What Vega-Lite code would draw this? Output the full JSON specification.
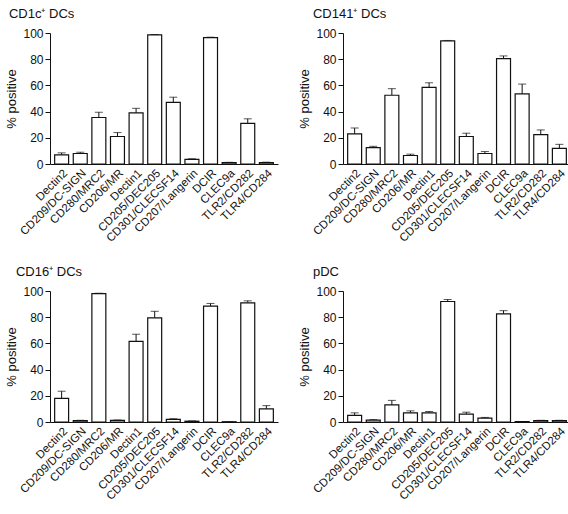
{
  "$schema": "https://vega.github.io/schema/vega-lite/v6.json",
  "background": "white",
  "padding": {"left": 5, "top": 8, "right": 2, "bottom": 2},
  "config": {
    "font": "Liberation Sans",
    "view": {"stroke": null},
    "axis": {"labelColor": "#111", "titleColor": "#111", "domainColor": "#111", "tickColor": "#111", "grid": false},
    "axisY": {"values": [0, 20, 40, 60, 80, 100], "labelOverlap": false, "labelFontSize": 12, "labelPadding": 2, "titleFontSize": 13, "titleFontWeight": "normal", "tickSize": 5, "titlePadding": 4},
    "axisX": {"labelAngle": -45, "ticks": false, "labelFontSize": 11.5, "labelPadding": 3, "labelLimit": 200},
    "title": {"fontSize": 13, "fontWeight": "normal", "color": "#111", "anchor": "start", "offset": 6}
  },
  "spacing": {"row": 22, "column": 20},
  "data": {
    "values": [
      {"panel": "A", "receptor": "Dectin2", "value": 7, "hi": 8.5},
      {"panel": "A", "receptor": "CD209/DC-SIGN", "value": 8, "hi": 9},
      {"panel": "A", "receptor": "CD280/MRC2", "value": 35.5, "hi": 39.5},
      {"panel": "A", "receptor": "CD206/MR", "value": 21, "hi": 24},
      {"panel": "A", "receptor": "Dectin1", "value": 39, "hi": 42.5},
      {"panel": "A", "receptor": "CD205/DEC205", "value": 98.5, "hi": 98.8},
      {"panel": "A", "receptor": "CD301/CLECSF14", "value": 47, "hi": 51},
      {"panel": "A", "receptor": "CD207/Langerin", "value": 3.5, "hi": 4},
      {"panel": "A", "receptor": "DCIR", "value": 96.5, "hi": 96.8},
      {"panel": "A", "receptor": "CLEC9a", "value": 1, "hi": 1.3},
      {"panel": "A", "receptor": "TLR2/CD282", "value": 31, "hi": 34.5},
      {"panel": "A", "receptor": "TLR4/CD284", "value": 1, "hi": 1.4},

      {"panel": "B", "receptor": "Dectin2", "value": 23, "hi": 27.5},
      {"panel": "B", "receptor": "CD209/DC-SIGN", "value": 12.5, "hi": 13.5},
      {"panel": "B", "receptor": "CD280/MRC2", "value": 52.5, "hi": 57.5},
      {"panel": "B", "receptor": "CD206/MR", "value": 6.5, "hi": 7.5},
      {"panel": "B", "receptor": "Dectin1", "value": 58.5, "hi": 62},
      {"panel": "B", "receptor": "CD205/DEC205", "value": 94, "hi": 94.3},
      {"panel": "B", "receptor": "CD301/CLECSF14", "value": 21, "hi": 23.5},
      {"panel": "B", "receptor": "CD207/Langerin", "value": 8, "hi": 9.5},
      {"panel": "B", "receptor": "DCIR", "value": 80.5, "hi": 82.5},
      {"panel": "B", "receptor": "CLEC9a", "value": 53.5, "hi": 61},
      {"panel": "B", "receptor": "TLR2/CD282", "value": 22.5, "hi": 26},
      {"panel": "B", "receptor": "TLR4/CD284", "value": 12, "hi": 15},

      {"panel": "C", "receptor": "Dectin2", "value": 18, "hi": 23.5},
      {"panel": "C", "receptor": "CD209/DC-SIGN", "value": 1, "hi": 1.3},
      {"panel": "C", "receptor": "CD280/MRC2", "value": 98, "hi": 98.3},
      {"panel": "C", "receptor": "CD206/MR", "value": 1.2, "hi": 1.5},
      {"panel": "C", "receptor": "Dectin1", "value": 61.5, "hi": 67},
      {"panel": "C", "receptor": "CD205/DEC205", "value": 79.5, "hi": 84.5},
      {"panel": "C", "receptor": "CD301/CLECSF14", "value": 2, "hi": 2.5},
      {"panel": "C", "receptor": "CD207/Langerin", "value": 0.6, "hi": 0.8},
      {"panel": "C", "receptor": "DCIR", "value": 88.5, "hi": 90.5},
      {"panel": "C", "receptor": "CLEC9a", "value": 0.2, "hi": 0.2},
      {"panel": "C", "receptor": "TLR2/CD282", "value": 91, "hi": 92.5},
      {"panel": "C", "receptor": "TLR4/CD284", "value": 10, "hi": 12.5},

      {"panel": "D", "receptor": "Dectin2", "value": 5, "hi": 7},
      {"panel": "D", "receptor": "CD209/DC-SIGN", "value": 1.5, "hi": 1.8},
      {"panel": "D", "receptor": "CD280/MRC2", "value": 13, "hi": 16.5},
      {"panel": "D", "receptor": "CD206/MR", "value": 7, "hi": 8.5},
      {"panel": "D", "receptor": "Dectin1", "value": 7, "hi": 8},
      {"panel": "D", "receptor": "CD205/DEC205", "value": 92, "hi": 93.5},
      {"panel": "D", "receptor": "CD301/CLECSF14", "value": 6, "hi": 7.5},
      {"panel": "D", "receptor": "CD207/Langerin", "value": 3, "hi": 3.5},
      {"panel": "D", "receptor": "DCIR", "value": 82.5, "hi": 85},
      {"panel": "D", "receptor": "CLEC9a", "value": 0.3, "hi": 0.3},
      {"panel": "D", "receptor": "TLR2/CD282", "value": 1, "hi": 1.3},
      {"panel": "D", "receptor": "TLR4/CD284", "value": 1, "hi": 1.3}
    ]
  },
  "columns": 2,
  "concat": [
    {
      "title": {"text": "CD1c⁺ DCs", "dx": 3},
      "width": 228, "height": 131,
      "transform": [{"filter": "datum.panel === 'A'"}],
      "encoding": {
        "x": {"field": "receptor", "type": "nominal", "sort": null, "title": null, "scale": {"paddingInner": 0.25, "paddingOuter": 0.25}}
      },
      "layer": [
        {"mark": {"type": "rule", "color": "#111", "strokeWidth": 1}, "encoding": {"y": {"field": "value", "type": "quantitative", "title": "% positive", "scale": {"domain": [0, 100]}}, "y2": {"field": "hi"}}},
        {"mark": {"type": "tick", "color": "#111", "size": 8, "thickness": 1}, "encoding": {"y": {"field": "hi", "type": "quantitative", "title": "% positive", "scale": {"domain": [0, 100]}}}},
        {"mark": {"type": "bar", "fill": "white", "stroke": "#111", "strokeWidth": 1.2}, "encoding": {"y": {"field": "value", "type": "quantitative", "title": "% positive", "scale": {"domain": [0, 100]}}}}
      ]
    },
    {
      "title": {"text": "CD141⁺ DCs", "dx": 14},
      "width": 228, "height": 131,
      "transform": [{"filter": "datum.panel === 'B'"}],
      "encoding": {
        "x": {"field": "receptor", "type": "nominal", "sort": null, "title": null, "scale": {"paddingInner": 0.25, "paddingOuter": 0.25}}
      },
      "layer": [
        {"mark": {"type": "rule", "color": "#111", "strokeWidth": 1}, "encoding": {"y": {"field": "value", "type": "quantitative", "title": "% positive", "scale": {"domain": [0, 100]}}, "y2": {"field": "hi"}}},
        {"mark": {"type": "tick", "color": "#111", "size": 8, "thickness": 1}, "encoding": {"y": {"field": "hi", "type": "quantitative", "title": "% positive", "scale": {"domain": [0, 100]}}}},
        {"mark": {"type": "bar", "fill": "white", "stroke": "#111", "strokeWidth": 1.2}, "encoding": {"y": {"field": "value", "type": "quantitative", "title": "% positive", "scale": {"domain": [0, 100]}}}}
      ]
    },
    {
      "title": {"text": "CD16⁺ DCs", "dx": 10},
      "width": 228, "height": 131,
      "transform": [{"filter": "datum.panel === 'C'"}],
      "encoding": {
        "x": {"field": "receptor", "type": "nominal", "sort": null, "title": null, "scale": {"paddingInner": 0.25, "paddingOuter": 0.25}}
      },
      "layer": [
        {"mark": {"type": "rule", "color": "#111", "strokeWidth": 1}, "encoding": {"y": {"field": "value", "type": "quantitative", "title": "% positive", "scale": {"domain": [0, 100]}}, "y2": {"field": "hi"}}},
        {"mark": {"type": "tick", "color": "#111", "size": 8, "thickness": 1}, "encoding": {"y": {"field": "hi", "type": "quantitative", "title": "% positive", "scale": {"domain": [0, 100]}}}},
        {"mark": {"type": "bar", "fill": "white", "stroke": "#111", "strokeWidth": 1.2}, "encoding": {"y": {"field": "value", "type": "quantitative", "title": "% positive", "scale": {"domain": [0, 100]}}}}
      ]
    },
    {
      "title": {"text": "pDC", "dx": 14},
      "width": 228, "height": 131,
      "transform": [{"filter": "datum.panel === 'D'"}],
      "encoding": {
        "x": {"field": "receptor", "type": "nominal", "sort": null, "title": null, "scale": {"paddingInner": 0.25, "paddingOuter": 0.25}}
      },
      "layer": [
        {"mark": {"type": "rule", "color": "#111", "strokeWidth": 1}, "encoding": {"y": {"field": "value", "type": "quantitative", "title": "% positive", "scale": {"domain": [0, 100]}}, "y2": {"field": "hi"}}},
        {"mark": {"type": "tick", "color": "#111", "size": 8, "thickness": 1}, "encoding": {"y": {"field": "hi", "type": "quantitative", "title": "% positive", "scale": {"domain": [0, 100]}}}},
        {"mark": {"type": "bar", "fill": "white", "stroke": "#111", "strokeWidth": 1.2}, "encoding": {"y": {"field": "value", "type": "quantitative", "title": "% positive", "scale": {"domain": [0, 100]}}}}
      ]
    }
  ]
}
